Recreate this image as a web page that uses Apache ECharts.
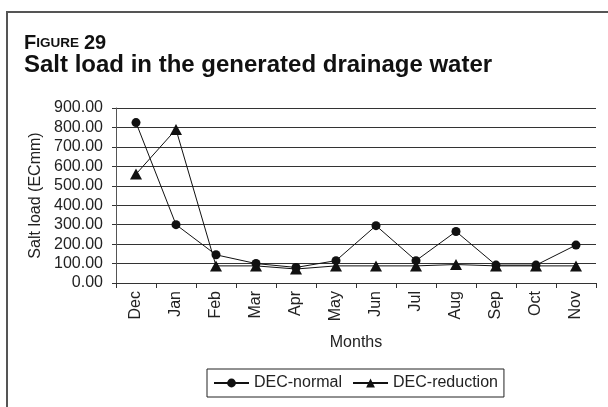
<!DOCTYPE html>
<html>
<head>
<meta charset="utf-8">
<script src="https://cdn.jsdelivr.net/npm/echarts@6/dist/echarts.min.js"></script>
<style>
  html, body { margin: 0; padding: 0; background: #fff; }
  #main { width: 608px; height: 407px; }
</style>
</head>
<body>
<div id="main"></div>
<script>
// data
const months = ["Dec", "Jan", "Feb", "Mar", "Apr", "May", "Jun", "Jul", "Aug", "Sep", "Oct", "Nov"];
const decNormal = [825, 300, 145, 100, 80, 115, 295, 115, 265, 92, 92, 195];
const decReduction = [560, 790, 88, 88, 72, 88, 88, 88, 95, 88, 88, 88];
const yTicks = { min: 0, max: 900, step: 100 };

const chart = echarts.init(document.getElementById("main"));
const font = "Liberation Sans, Arial, sans-serif";

const option = {
  backgroundColor: "#fff",
  animation: false,
  textStyle: { fontFamily: font, color: "#222" },
  title: [
    {
      left: 24,
      top: 33,
      padding: 0,
      text: "{a|F}{b|IGURE} {a|29}",
      textStyle: {
        rich: {
          a: { fontSize: 20, fontWeight: "bold", color: "#111", fontFamily: font },
          b: { fontSize: 13.5, fontWeight: "bold", color: "#111", fontFamily: font }
        }
      }
    },
    {
      left: 24,
      top: 53,
      padding: 0,
      text: "Salt load in the generated drainage water",
      textStyle: { fontSize: 24, fontWeight: "bold", color: "#111", fontFamily: font }
    }
  ],
  // outer frame of the figure
  graphic: [
    {
      type: "rect",
      shape: { x: 7, y: 12, width: 700, height: 500 },
      style: { fill: "none", stroke: "#555", lineWidth: 2 },
      silent: true
    }
  ],
  grid: { left: 116, right: 12, top: 108, bottom: 124 },
  legend: {
    left: 207,
    top: 369,
    itemWidth: 35,
    itemHeight: 11,
    itemGap: 10,
    padding: [6, 6, 6, 6],
    borderColor: "#222",
    borderWidth: 1,
    textStyle: { fontSize: 16, color: "#222", fontFamily: font },
    data: ["DEC-normal", "DEC-reduction"]
  },
  xAxis: {
    type: "category",
    data: months,
    boundaryGap: true,
    name: "Months",
    nameLocation: "middle",
    nameGap: 52,
    nameTextStyle: { fontSize: 16, color: "#222" },
    axisLine: { lineStyle: { color: "#333", width: 1 } },
    axisTick: { show: true, length: 5, lineStyle: { color: "#333" } },
    axisLabel: { rotate: 90, fontSize: 16, color: "#222", margin: 8 }
  },
  yAxis: {
    type: "value",
    min: yTicks.min,
    max: yTicks.max,
    interval: yTicks.step,
    name: "Salt load (ECmm)",
    nameLocation: "middle",
    nameGap: 70,
    nameTextStyle: { fontSize: 16, color: "#222" },
    axisLine: { show: true, lineStyle: { color: "#555", width: 1 } },
    axisTick: { show: true, length: 4, lineStyle: { color: "#333" } },
    axisLabel: {
      fontSize: 16,
      color: "#222",
      margin: 13,
      formatter: (v) => v.toFixed(2)
    },
    splitLine: { lineStyle: { color: "#333", width: 1 } }
  },
  series: [
    {
      name: "DEC-normal",
      type: "line",
      data: decNormal,
      symbol: "circle",
      symbolSize: 9,
      lineStyle: { color: "#111", width: 1 },
      itemStyle: { color: "#111" }
    },
    {
      name: "DEC-reduction",
      type: "line",
      data: decReduction,
      symbol: "triangle",
      symbolSize: [12, 11],
      lineStyle: { color: "#111", width: 1 },
      itemStyle: { color: "#111" }
    }
  ]
};

chart.setOption(option);
</script>
</body>
</html>
